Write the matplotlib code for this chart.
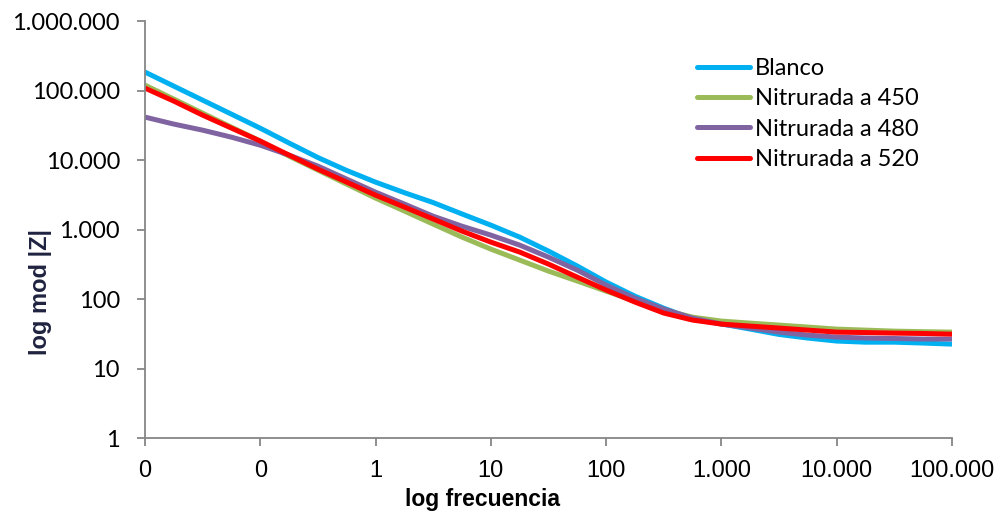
import matplotlib
matplotlib.use("Agg")
import matplotlib.pyplot as plt
from matplotlib.ticker import FixedLocator, FuncFormatter, NullLocator

# frequencies (Hz) at quarter-decade steps
freq = [0.01, 0.0178, 0.0316, 0.0562, 0.1, 0.178, 0.316, 0.562,
        1, 1.78, 3.16, 5.62, 10, 17.8, 31.6, 56.2,
        100, 178, 316, 562, 1000, 1778, 3162, 5623,
        10000, 17783, 31623, 56234, 100000]

blanco = [185000, 116000, 73000, 45900, 28800, 17600, 10900, 7100,
          4820, 3400, 2450, 1680, 1160, 780, 491, 299,
          176, 110, 74, 52, 44, 37, 31, 27.5,
          24.9, 24, 24, 23.3, 22.5]
nit_450 = [120000, 75500, 47400, 29800, 18800, 11400, 7180, 4510,
           2840, 1850, 1200, 780, 524, 364, 253, 182,
           130, 93.6, 69.5, 55, 48.3, 45.1, 42.3, 39.6,
           37, 35.8, 34.6, 34, 33.5]
nit_480 = [41600, 33000, 27000, 21400, 16400, 11800, 8200, 5330,
           3460, 2330, 1560, 1120, 833, 598, 402, 261,
           159, 103, 71.8, 53.3, 43.7, 38.3, 33.5, 30.3,
           28.4, 27.5, 27.1, 26.6, 26.6]
nit_520 = [108700, 70600, 44400, 28900, 18800, 11800, 7420, 4820,
           3130, 2110, 1420, 951, 661, 475, 319, 207,
           135, 90.5, 63, 49.9, 43.7, 40.9, 38.3, 35.8,
           33.5, 33, 32.4, 32, 31.3]

series = [("Blanco", blanco, "#00B0F0"),
          ("Nitrurada a 450", nit_450, "#9BBB59"),
          ("Nitrurada a 480", nit_480, "#8064A2"),
          ("Nitrurada a 520", nit_520, "#FF0000")]

xticks = [0.01, 0.1, 1, 10, 100, 1000, 10000, 100000]
yticks = [1, 10, 100, 1000, 10000, 100000, 1000000]

def fmt(v, pos):
    return f"{int(round(v)):,}".replace(",", ".")

fig = plt.figure(figsize=(10, 5.16), dpi=100)
ax = fig.add_axes([0.145, 0.151, 0.807, 0.808])

for name, vals, col in series:
    ax.plot(freq, vals, color=col, linewidth=3.6, label=name,
            solid_capstyle="butt", solid_joinstyle="round")

ax.set_xscale("log")
ax.set_yscale("log")
ax.set_xlim(0.01, 100000)
ax.set_ylim(1, 1000000)

ax.xaxis.set_major_locator(FixedLocator(xticks))
ax.yaxis.set_major_locator(FixedLocator(yticks))
ax.xaxis.set_minor_locator(NullLocator())
ax.yaxis.set_minor_locator(NullLocator())
ax.xaxis.set_major_formatter(FuncFormatter(fmt))
ax.yaxis.set_major_formatter(FuncFormatter(fmt))

for s in ["top", "right"]:
    ax.spines[s].set_visible(False)
for s in ["left", "bottom"]:
    ax.spines[s].set_color("#868686")
    ax.spines[s].set_linewidth(1.3)

ax.tick_params(axis="both", colors="#868686", length=6, width=1.3, direction="out")
ax.tick_params(axis="x", labelcolor="black", labelsize=17, pad=10,
               labelfontfamily="Liberation Sans")
ax.tick_params(axis="y", labelcolor="black", labelsize=17, pad=12,
               labelfontfamily="Lato")

ax.set_xlabel("log frecuencia", fontsize=16.5, fontweight="bold",
              family="Liberation Sans")
ax.xaxis.set_label_coords(0.418, -0.12)
ax.set_ylabel("log mod |Z|", fontsize=17, fontweight="bold", color="#1F2340",
              family="Liberation Sans")
ax.yaxis.set_label_coords(-0.115, 0.35)

leg = fig.legend(loc="upper left", bbox_to_anchor=(0.697, 0.888), frameon=False,
                 prop={"family": "Lato", "size": 17},
                 handlelength=2.25, handletextpad=0.2, labelspacing=0.4,
                 borderpad=0, borderaxespad=0)
for h in leg.get_lines():
    h.set_linewidth(3.6)
    h.set_solid_capstyle("round")

fig.savefig("out.png", dpi=100, facecolor="white")
